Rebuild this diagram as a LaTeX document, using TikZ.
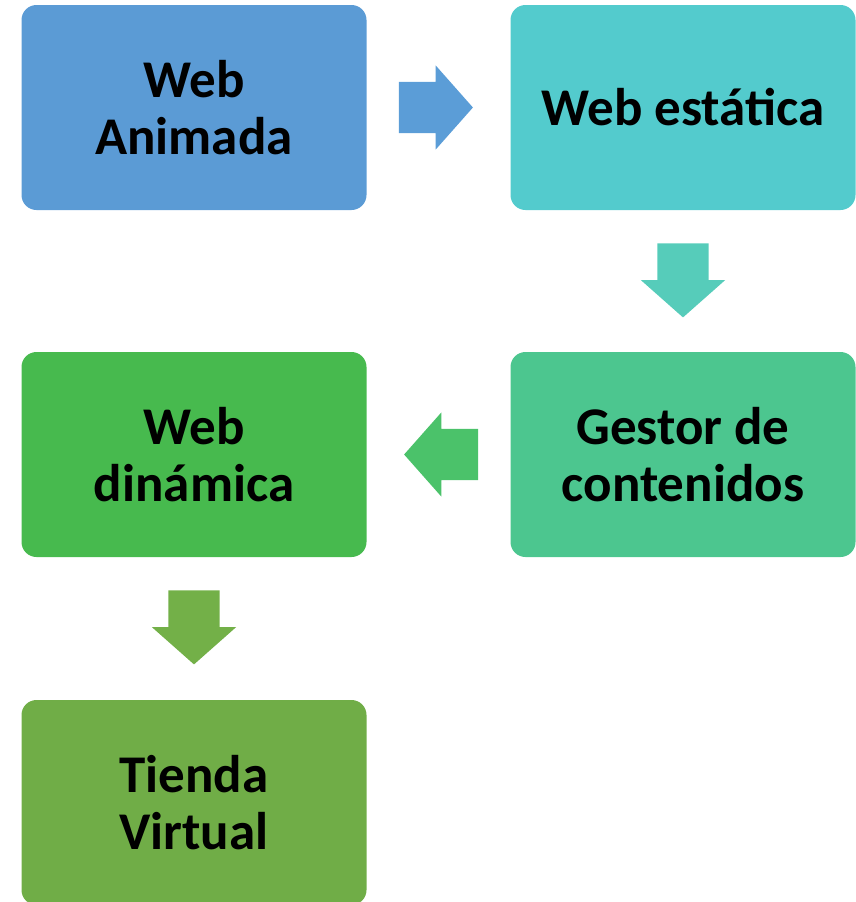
\documentclass[tikz,border=0pt]{standalone}
\usepackage{fontspec}
\setmainfont{Carlito}
\usetikzlibrary{shapes.arrows}

\definecolor{cAnimada}{RGB}{91,155,213}
\definecolor{cEstatica}{RGB}{83,203,205}
\definecolor{cGestor}{RGB}{76,198,143}
\definecolor{cDinamica}{RGB}{71,186,78}
\definecolor{cTienda}{RGB}{112,173,71}
\definecolor{aUno}{RGB}{91,157,215}
\definecolor{aDos}{RGB}{86,204,186}
\definecolor{aTres}{RGB}{75,194,106}
\definecolor{aCuatro}{RGB}{115,176,72}

\begin{document}
\begin{tikzpicture}[x=1pt, y=1pt, node distance=489pt,
    box/.style={rectangle, rounded corners=15pt, minimum width=345pt, minimum height=205pt, inner sep=0pt, align=center, font=\fontsize{53}{57}\selectfont\bfseries},
    flecha/.style={single arrow, anchor=tail, inner xsep=0pt, inner ysep=25.5pt, minimum height=74pt, minimum width=84pt, single arrow head extend=16.5pt, single arrow tip angle=97}]

    \useasboundingbox (0,0) rectangle (856,-902);

    \node[box, fill=cAnimada] (animada) at (194,-107.5) {Web\\Animada};
    \node[box, fill=cEstatica, right of=animada] (estatica) {Web estática};
    \node[box, fill=cGestor, below of=estatica, node distance=347pt] (gestor) {Gestor de\\contenidos};
    \node[box, fill=cDinamica, left of=gestor] (dinamica) {Web\\dinámica};
    \node[box, fill=cTienda, below of=dinamica, node distance=348pt] (tienda) {Tienda\\Virtual};

    \node[flecha, fill=aUno] (f1) at ([xshift=32pt]animada.east) {};
    \node[flecha, fill=aDos, rotate=-90] (f2) at ([yshift=-33pt]estatica.south) {};
    \node[flecha, fill=aTres, rotate=180] (f3) at ([xshift=-32pt]gestor.west) {};
    \node[flecha, fill=aCuatro, rotate=-90] (f4) at ([yshift=-33pt]dinamica.south) {};
  \end{tikzpicture}
\end{document}
